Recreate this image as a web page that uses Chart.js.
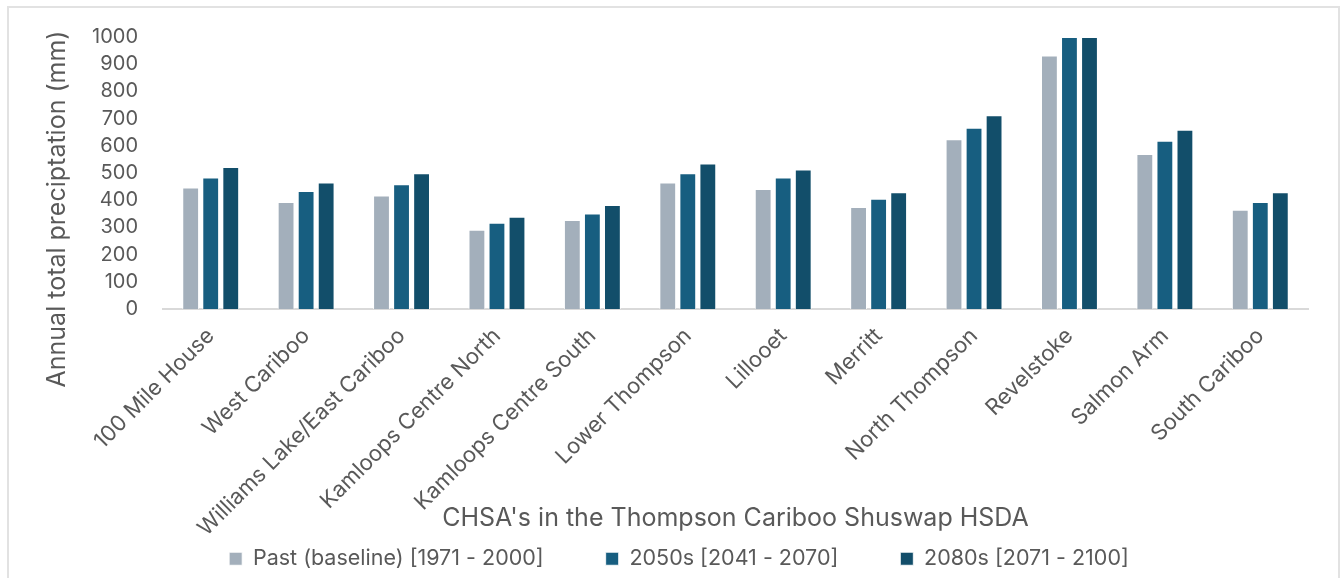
<!DOCTYPE html>
<html>
<head>
<meta charset="utf-8">
<script src="https://cdn.jsdelivr.net/npm/chart.js@4/dist/chart.umd.min.js"></script>
<style>
  html, body { margin: 0; padding: 0; background: #fff; }
  #frame { position: absolute; left: 7px; top: 6px; width: 1333px; height: 590px; border: 2px solid #e2e2e2; box-sizing: border-box; }
  #wrap { position: absolute; left: 0; top: 0; width: 1341px; height: 578px; }
</style>
</head>
<body>
<div id="frame"></div>
<div id="wrap"><canvas id="precip-chart"></canvas></div>
<script>
const regions = [
  "100 Mile House", "West Cariboo", "Williams Lake/East Cariboo", "Kamloops Centre North",
  "Kamloops Centre South", "Lower Thompson", "Lillooet", "Merritt",
  "North Thompson", "Revelstoke", "Salmon Arm", "South Cariboo"
];
const pastBaseline = [447, 393, 417, 291, 327, 465, 441, 375, 624, 932, 570, 365];
const precip2050s = [483, 434, 459, 317, 351, 499, 483, 405, 666, 1000, 619, 393];
const precip2080s = [522, 465, 499, 339, 382, 535, 513, 429, 712, 1000, 659, 429];
const yTicks = [0, 100, 200, 300, 400, 500, 600, 700, 800, 900, 1000];

const textGrey = "#595959";
const fontFamily = "Inter, 'Liberation Sans', Arial, sans-serif";

// y title drawn by hand so it can sit a bit lower than the plot centre, like the original
const yTitlePlugin = {
  id: "yTitle",
  afterDraw(chart) {
    const ctx = chart.ctx;
    ctx.save();
    ctx.translate(57, 209);
    ctx.rotate(-Math.PI / 2);
    ctx.font = "25px " + fontFamily;
    ctx.fillStyle = textGrey;
    ctx.textAlign = "center";
    ctx.textBaseline = "middle";
    ctx.fillText("Annual total preciptation (mm)", 0, 0);
    ctx.restore();
  },
};

// legend gets almost no room in the layout (so the slanted labels are not clipped),
// then its box is moved up over the bottom of the x scale like in the original
const legendMove = {
  id: "legendMove",
  afterLayout(chart) {
    const lg = chart.legend;
    lg.top = 486;
    lg.bottom = chart.height;
    lg.left = 50;
  },
};

const ctx = document.getElementById("precip-chart").getContext("2d");

new Chart(ctx, {
  type: "bar",
  data: {
    labels: regions,
    datasets: [
      { label: "Past (baseline) [1971 - 2000]", data: pastBaseline, backgroundColor: "#a3afbb" },
      { label: "2050s [2041 - 2070]", data: precip2050s, backgroundColor: "#175e80" },
      { label: "2080s [2071 - 2100]", data: precip2080s, backgroundColor: "#124e6a" },
    ],
  },
  options: {
    responsive: true,
    maintainAspectRatio: false,
    animation: false,
    datasets: {
      bar: {
        categoryPercentage: 0.63,
        barPercentage: 0.84,
        borderWidth: 1,
        borderColor: "rgba(255,255,255,0.85)",
      },
    },
    layout: {
      padding: { left: 0, right: 33, top: 25, bottom: 0 },
    },
    plugins: {
      tooltip: { enabled: false },
      legend: {
        position: "bottom",
        maxHeight: 1,
        labels: {
          color: textGrey,
          font: { family: fontFamily, size: 21.5 },
          boxWidth: 13,
          boxHeight: 13,
          padding: 62,
        },
      },
    },
    scales: {
      x: {
        grid: { display: false, drawTicks: false },
        border: { display: true, color: "#d9d9d9", width: 2 },
        ticks: {
          color: textGrey,
          font: { family: fontFamily, size: 22 },
          autoSkip: false,
          minRotation: 45,
          maxRotation: 45,
          padding: 14,
        },
        title: {
          display: true,
          text: "CHSA's in the Thompson Cariboo Shuswap HSDA",
          color: textGrey,
          font: { family: fontFamily, size: 25 },
          padding: { top: 0, bottom: 44 },
        },
        afterFit(scale) {
          scale.height = 268;
        },
      },
      y: {
        min: 0,
        max: 1000,
        afterBuildTicks(scale) {
          scale.ticks = yTicks.map((v) => ({ value: v }));
        },
        grid: { display: false, drawTicks: false },
        border: { display: false },
        ticks: {
          color: textGrey,
          font: { family: fontFamily, size: 20 },
          padding: 25,
          callback: (v) => String(v),
        },
        afterFit(scale) {
          scale.width = 163;
        },
      },
    },
  },
  plugins: [yTitlePlugin, legendMove],
});
</script>
</body>
</html>
